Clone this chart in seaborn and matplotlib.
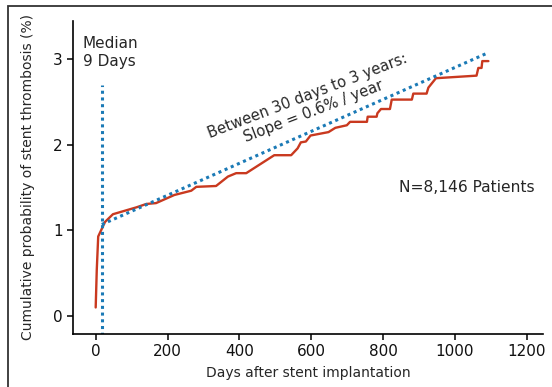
import matplotlib
matplotlib.use("Agg")
import matplotlib.pyplot as plt
from matplotlib.patches import Rectangle
import pandas as pd
import seaborn as sns

# Cumulative stent thrombosis curve
days = [0, 3, 7, 26, 48, 113, 141, 168, 219, 266, 280, 335, 368, 391, 419,
        497, 544, 562, 571, 585, 598, 648, 667, 699, 708, 755, 757, 782, 784,
        794, 819, 824, 880, 884, 921, 926, 947, 1060, 1065, 1074, 1076, 1093]
prob = [0.10, 0.54, 0.93, 1.10, 1.19, 1.27, 1.31, 1.32, 1.415, 1.465, 1.51,
        1.52, 1.63, 1.67, 1.67, 1.88, 1.88, 1.96, 2.03, 2.04, 2.11, 2.15, 2.20,
        2.23, 2.27, 2.27, 2.33, 2.33, 2.37, 2.42, 2.42, 2.53, 2.53, 2.60, 2.60,
        2.67, 2.78, 2.81, 2.90, 2.90, 2.98, 2.98]

# median marker and slope line (30 days to 3 years)
median_day = 17
median_top = 2.70
slope_days = [17, 1088]
slope_prob = [1.07, 3.07]

x_ticks = [0, 200, 400, 600, 800, 1000, 1200]
y_ticks = [0, 1, 2, 3]

RED = "#c9391f"
BLUE = "#1b7ab6"

sns.set_style("ticks")
plt.rcParams['font.family'] = ['DejaVu Sans']

fig = plt.figure(figsize=(5.52, 3.87), dpi=100)
ax = fig.add_axes([0.1317, 0.137, 0.852, 0.809])

df = pd.DataFrame({"days": days, "prob": prob})
sns.lineplot(data=df, x="days", y="prob", sort=False, estimator=None,
             color=RED, lw=1.7, ax=ax)

ax.plot([median_day, median_day], [-0.3, median_top], color=BLUE, lw=2.2,
        linestyle=(0, (1, 1.2)))
ax.plot(slope_days, slope_prob, color=BLUE, lw=2.2, linestyle=(0, (1, 1.2)))

ax.set_xlim(-64, 1245)
ax.set_ylim(-0.21, 3.45)
ax.set_xticks(x_ticks)
ax.set_yticks(y_ticks)
ax.tick_params(length=4, width=1.1, labelsize=11, color="black",
               labelcolor="#111111", pad=3)
for s in ["left", "bottom"]:
    ax.spines[s].set_linewidth(1.2)
    ax.spines[s].set_color("black")
sns.despine(ax=ax)

ax.set_xlabel("Days after stent implantation", fontsize=10, labelpad=5)
ax.set_ylabel("Cumulative probability of stent thrombosis (%)", fontsize=10,
              labelpad=13)

ax.text(-36, 3.27, "Median\n9 Days", fontsize=11, ha="left", va="top")
ax.text(597, 2.48, "Between 30 days to 3 years:\nSlope = 0.6% / year",
        fontsize=10.6, ha="center", va="center", rotation=21,
        rotation_mode="anchor", linespacing=1.1)
ax.text(844, 1.50, "N=8,146 Patients", fontsize=11.2, ha="left", va="center")

# outer frame of the original figure box
fig.patches.append(Rectangle((8 / 552, -0.1), 1.2, 1 - 6 / 387 + 0.1,
                             transform=fig.transFigure, fill=False,
                             lw=1.3, edgecolor="#333333"))

fig.savefig("out.png", dpi=100)
